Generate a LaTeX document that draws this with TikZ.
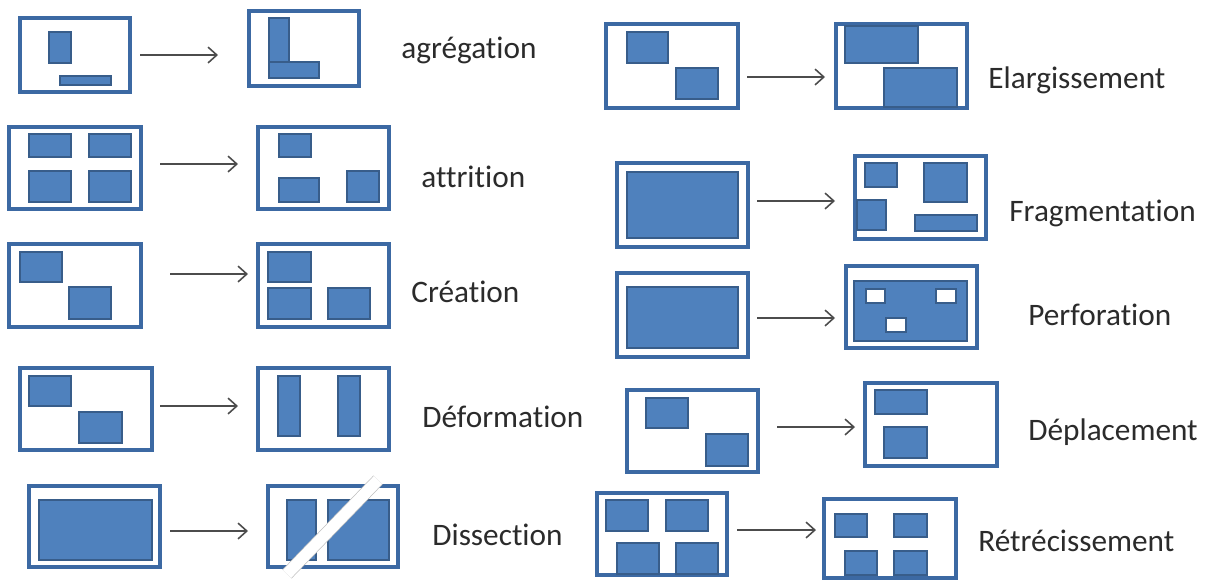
\documentclass[tikz,border=0pt]{standalone}
\usepackage{fontspec}
\setmainfont{Carlito}[Ligatures=NoCommon]
\usetikzlibrary{fit,arrows.meta}
\definecolor{frameblue}{HTML}{3C69A3}
\definecolor{blockfill}{HTML}{4F81BD}
\definecolor{blockline}{HTML}{385D8A}
\definecolor{textgray}{HTML}{2B2B2B}
\begin{document}
\begin{tikzpicture}[x=0.02cm,y=-0.02cm,
        frame/.style={draw=frameblue,line width=2pt,inner sep=0pt,outer sep=0pt},
        block/.style={fill=blockfill,draw=blockline,line width=1.5pt},
        hole/.style={fill=white,draw=blockline,line width=1.5pt},
        arr/.style={draw=black!70,line width=0.9pt,-{Straight Barb[length=5pt,width=9pt]}},
        cut/.style={draw=black!25,line width=0.4pt,double=white,double distance=6.5pt},
        lbl/.style={anchor=west,inner sep=0pt,text=textgray,font=\fontsize{17.8}{21}\selectfont}]
        \useasboundingbox (0,0) rectangle (1209,579);
        % agregation
        \node[frame,fit={(20,18) (130,92)}] (ag1) {};
        \draw[block] (49,32) rectangle (71,63);
        \draw[block] (60,76) rectangle (111,85);
        \coordinate (ag-s) at (140,55); \coordinate (ag-e) at (218,55);
        \draw[arr] (ag-s) -- (ag-e);
        \node[frame,fit={(249,11) (359,86)}] (ag2) {};
        \draw[block] (269,18) rectangle (289,78);
        \draw[block] (269,62) rectangle (319,78);
        \node[lbl] (l-ag) at (401,50) {agrégation};
        % attrition
        \node[frame,fit={(9,127) (141,209)}] (at1) {};
        \draw[block] (29,134) rectangle (71,157);
        \draw[block] (89,134) rectangle (131,157);
        \draw[block] (29,171) rectangle (71,202);
        \draw[block] (89,171) rectangle (131,202);
        \coordinate (at-s) at (160,164); \coordinate (at-e) at (238,164);
        \draw[arr] (at-s) -- (at-e);
        \node[frame,fit={(258,127) (389,209)}] (at2) {};
        \draw[block] (279,134) rectangle (311,157);
        \draw[block] (279,178) rectangle (319,202);
        \draw[block] (347,171) rectangle (379,202);
        \node[lbl] (l-at) at (421,177) {attrition};
        % creation
        \node[frame,fit={(9,244) (141,327)}] (cr1) {};
        \draw[block] (20,252) rectangle (62,282);
        \draw[block] (69,287) rectangle (111,319);
        \coordinate (cr-s) at (170,274); \coordinate (cr-e) at (248,274);
        \draw[arr] (cr-s) -- (cr-e);
        \node[frame,fit={(258,244) (389,327)}] (cr2) {};
        \draw[block] (268,252) rectangle (311,282);
        \draw[block] (268,288) rectangle (311,319);
        \draw[block] (328,288) rectangle (370,319);
        \node[lbl] (l-cr) at (411,292) {Création};
        % deformation
        \node[frame,fit={(20,368) (152,450)}] (de1) {};
        \draw[block] (29,376) rectangle (71,406);
        \draw[block] (79,412) rectangle (122,443);
        \coordinate (de-s) at (160,406); \coordinate (de-e) at (238,406);
        \draw[arr] (de-s) -- (de-e);
        \node[frame,fit={(258,368) (389,450)}] (de2) {};
        \draw[block] (278,376) rectangle (300,436);
        \draw[block] (338,376) rectangle (360,436);
        \node[lbl] (l-de) at (422,417) {Déformation};
        % dissection
        \node[frame,fit={(29,486) (160,567)}] (di1) {};
        \draw[block] (39,500) rectangle (152,560);
        \coordinate (di-s) at (170,531); \coordinate (di-e) at (248,531);
        \draw[arr] (di-s) -- (di-e);
        \node[frame,fit={(268,486) (398,567)}] (di2) {};
        \draw[block] (287,500) rectangle (316,560);
        \draw[block] (328,500) rectangle (389,560);
        \draw[cut] (378,480) -- (287,574);
        \node[lbl] (l-di) at (432,535) {Dissection};
        % elargissement
        \node[frame,fit={(606,24) (738,108)}] (el1) {};
        \draw[block] (627,32) rectangle (668,63);
        \draw[block] (676,68) rectangle (718,99);
        \coordinate (el-s) at (747,77); \coordinate (el-e) at (825,77);
        \draw[arr] (el-s) -- (el-e);
        \node[frame,fit={(836,24) (967,108)}] (el2) {};
        \draw[block] (845,26) rectangle (918,63);
        \draw[block] (884,68) rectangle (957,107);
        \node[lbl] (l-el) at (988,80) {Elargissement};
        % fragmentation
        \node[frame,fit={(617,163) (748,247)}] (fr1) {};
        \draw[block] (627,172) rectangle (738,238);
        \coordinate (fr-s) at (757,201); \coordinate (fr-e) at (835,201);
        \draw[arr] (fr-s) -- (fr-e);
        \node[frame,fit={(855,156) (986,239)}] (fr2) {};
        \draw[block] (865,163) rectangle (897,187);
        \draw[block] (924,163) rectangle (967,202);
        \draw[block] (857,200) rectangle (886,230);
        \draw[block] (915,215) rectangle (977,231);
        \node[lbl] (l-fr) at (1009,213) {Fragmentation};
        % perforation
        \node[frame,fit={(617,273) (748,357)}] (pe1) {};
        \draw[block] (627,287) rectangle (738,348);
        \coordinate (pe-s) at (757,318); \coordinate (pe-e) at (835,318);
        \draw[arr] (pe-s) -- (pe-e);
        \node[frame,fit={(846,266) (977,348)}] (pe2) {};
        \draw[block] (854,281) rectangle (967,341);
        \draw[hole] (866,289) rectangle (885,303);
        \draw[hole] (936,289) rectangle (956,303);
        \draw[hole] (886,318) rectangle (906,332);
        \node[lbl] (l-pe) at (1028,315) {Perforation};
        % deplacement
        \node[frame,fit={(627,390) (758,472)}] (dp1) {};
        \draw[block] (646,398) rectangle (688,428);
        \draw[block] (706,434) rectangle (748,466);
        \coordinate (dp-s) at (777,427); \coordinate (dp-e) at (855,427);
        \draw[arr] (dp-s) -- (dp-e);
        \node[frame,fit={(865,383) (997,466)}] (dp2) {};
        \draw[block] (875,390) rectangle (927,414);
        \draw[block] (884,427) rectangle (927,458);
        \node[lbl] (l-dp) at (1028,432) {Déplacement};
        % retrecissement
        \node[frame,fit={(597,493) (727,575)}] (re1) {};
        \draw[block] (606,500) rectangle (648,531);
        \draw[block] (666,500) rectangle (708,531);
        \draw[block] (617,543) rectangle (659,574);
        \draw[block] (676,543) rectangle (718,574);
        \coordinate (re-s) at (737,530); \coordinate (re-e) at (816,530);
        \draw[arr] (re-s) -- (re-e);
        \node[frame,fit={(824,499) (956,578)}] (re2) {};
        \draw[block] (835,514) rectangle (867,537);
        \draw[block] (894,514) rectangle (927,537);
        \draw[block] (845,551) rectangle (877,575);
        \draw[block] (894,551) rectangle (927,575);
        \node[lbl] (l-re) at (978,541) {Rétrécissement};
\end{tikzpicture}
\end{document}
